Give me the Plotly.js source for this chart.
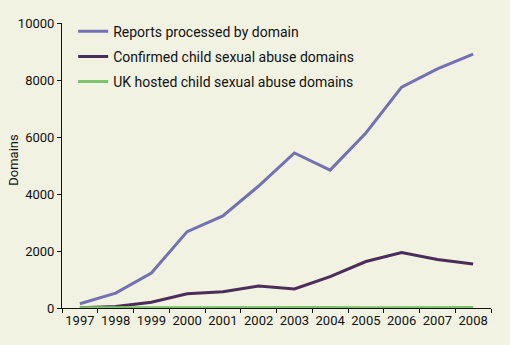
<!DOCTYPE html>
<html><head><meta charset="utf-8">
<script src="https://cdn.plot.ly/plotly-3.0.1.min.js"></script>
<style>html,body{margin:0;padding:0;background:#f2f2e3;}</style>
</head><body>
<div id="chart" style="width:510px;height:345px;"></div>
<script>
const years = ['1997','1998','1999','2000','2001','2002','2003','2004','2005','2006','2007','2008'];
const reports = [150, 520, 1230, 2680, 3230, 4280, 5440, 4840, 6140, 7750, 8390, 8910];
const confirmed = [10, 50, 200, 500, 570, 770, 670, 1100, 1630, 1950, 1700, 1540];
const ukHosted = [5, 10, 15, 10, 10, 10, 20, 20, 10, 10, 15, 15];
const yTicks = [0, 2000, 4000, 6000, 8000, 10000];
const yTickText = ['0', '2000', '4000', '6000', '8000', '10000'];
const names = ['Reports processed by domain','Confirmed child sexual abuse domains','UK hosted child sexual abuse domains'];
const yTitle = 'Domains';
const fontFam = 'Roboto, "DejaVu Sans Condensed", sans-serif';
const traces = [
  {x: years, y: reports, name: names[0], legendgroup: 'a', mode: 'lines', line: {color: '#7470b4', width: 3}},
  {x: years, y: confirmed, name: names[1], legendgroup: 'b', mode: 'lines', line: {color: '#4a2d58', width: 3}},
  {x: years, y: ukHosted, name: names[2], legendgroup: 'c', mode: 'lines', line: {color: '#7cc46c', width: 3}}
];
const layout = {
  width: 510, height: 345,
  paper_bgcolor: '#f2f2e3', plot_bgcolor: '#f2f2e3',
  margin: {l: 62, r: 19, t: 23, b: 37},
  font: {family: fontFam, size: 13, color: '#111'},
  showlegend: true,
  legend: {x: 0.026, y: 1.026, xanchor: 'left', yanchor: 'top', bgcolor: 'rgba(0,0,0,0)',
           font: {size: 14, family: fontFam, color: '#111'}, tracegroupgap: 4, itemwidth: 30},
  xaxis: {type: 'category', range: [-0.5, 11.5], showline: true, linecolor: '#111', linewidth: 1,
          ticks: 'outside', ticklen: 4, tickcolor: '#111', tickson: 'boundaries', showgrid: false,
          zeroline: false, tickangle: 0, tickfont: {size: 13}, fixedrange: true},
  yaxis: {range: [0, 10000], tickvals: yTicks, ticktext: yTickText, showline: true, linecolor: '#111',
          linewidth: 1, ticks: 'outside', ticklen: 4, tickcolor: '#111', showgrid: false, zeroline: false,
          tickfont: {size: 13}, fixedrange: true},
  annotations: [{text: yTitle, xref: 'paper', yref: 'paper', x: -0.112, y: 0.52, xanchor: 'center', yanchor: 'middle',
                 textangle: -90, showarrow: false, font: {size: 13, family: fontFam, color: '#111'}}]
};
Plotly.newPlot('chart', traces, layout, {displayModeBar: false, staticPlot: true});
</script>
</body></html>
